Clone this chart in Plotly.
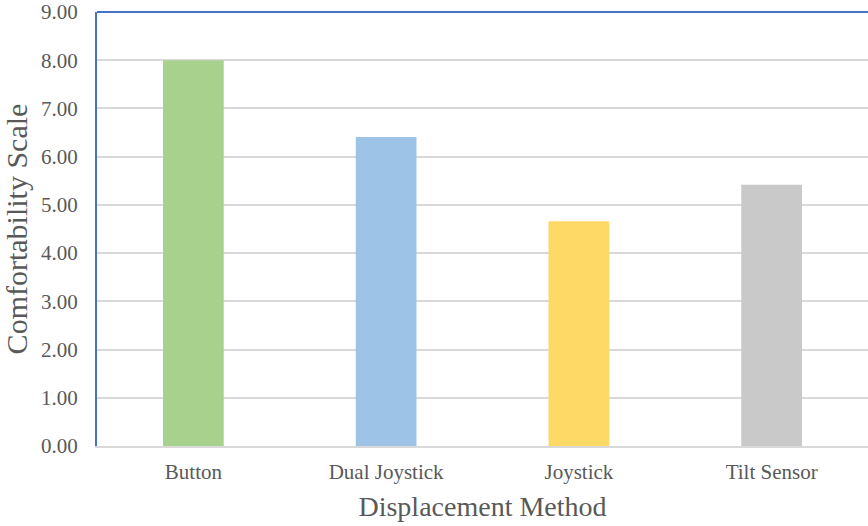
import plotly.graph_objects as go

# Average comfort rating per displacement method
methods = ["Button", "Dual Joystick", "Joystick", "Tilt Sensor"]
scores = [8.00, 6.41, 4.66, 5.42]
bar_colors = ["#A9D18E", "#9DC3E6", "#FFD966", "#C9C9C9"]
y_ticks = [0, 1, 2, 3, 4, 5, 6, 7, 8, 9]

font_family = "Liberation Serif, Times New Roman, serif"
text_gray = "#595959"
grid_gray = "#D9D9D9"
accent_blue = "#4472C4"

fig = go.Figure(
    go.Bar(
        x=methods,
        y=scores,
        marker=dict(color=bar_colors, line=dict(width=0)),
        width=0.315,
    )
)

fig.update_layout(
    width=868,
    height=526,
    margin=dict(l=97, r=0, t=12, b=80),
    paper_bgcolor="white",
    plot_bgcolor="white",
    showlegend=False,
    font=dict(family=font_family, color=text_gray),
    xaxis=dict(
        title=dict(text="Displacement Method", font=dict(size=28, color=text_gray), standoff=13),
        tickfont=dict(size=21, color=text_gray),
        showline=True,
        linecolor=grid_gray,
        linewidth=2,
        showgrid=False,
        ticks="",
        ticklabelstandoff=6,
    ),
    yaxis=dict(
        title=dict(text="Comfortability Scale", font=dict(size=30, color=text_gray), standoff=10),
        range=[0, 9],
        tickvals=y_ticks,
        tickformat=".2f",
        tickfont=dict(size=21, color=text_gray),
        showgrid=True,
        gridcolor=grid_gray,
        gridwidth=2,
        zeroline=False,
        showline=True,
        linecolor=accent_blue,
        linewidth=2,
        ticks="",
        ticklabelstandoff=13,
    ),
    shapes=[
        dict(
            type="line", xref="paper", yref="paper",
            x0=0, x1=1, y0=1, y1=1,
            line=dict(color=accent_blue, width=2),
        )
    ],
)

fig.write_html("out.html")
